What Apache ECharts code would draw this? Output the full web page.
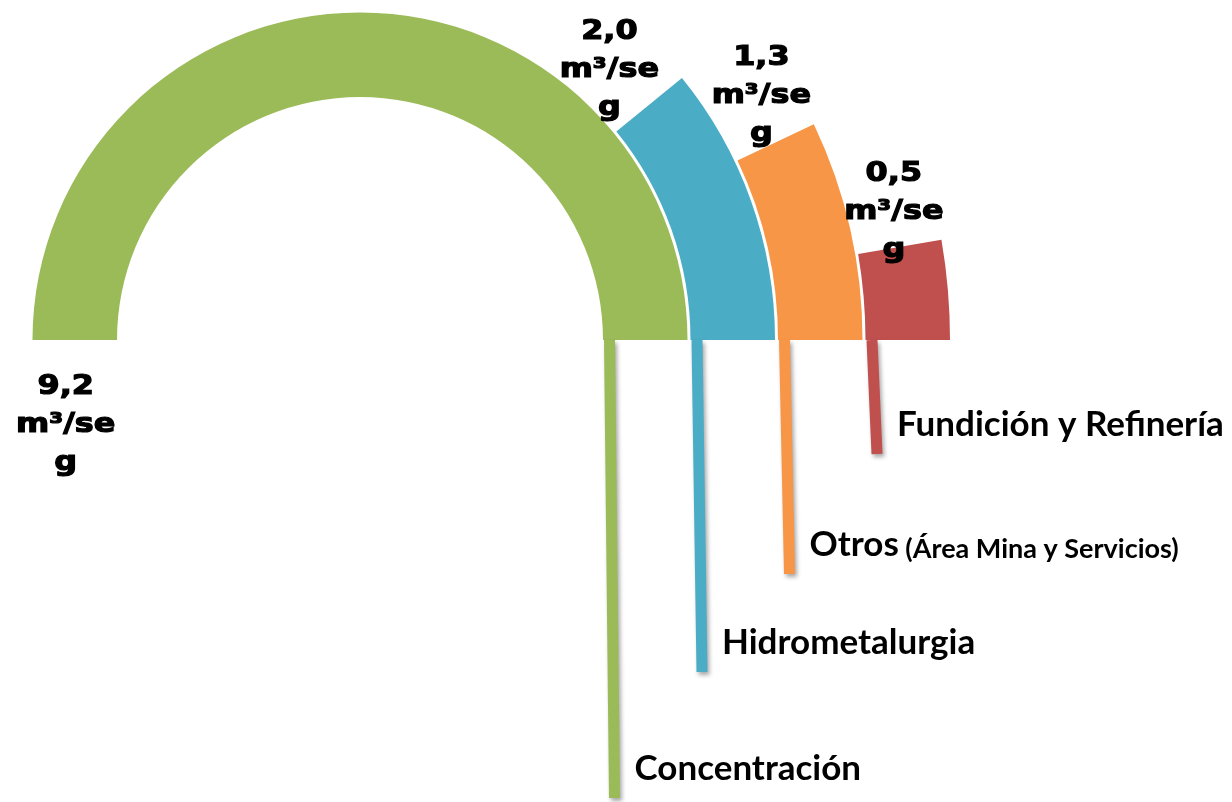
<!DOCTYPE html>
<html>
<head>
<meta charset="utf-8">
<script src="https://cdn.jsdelivr.net/npm/echarts@6/dist/echarts.min.js"></script>
<style>
html, body { margin: 0; padding: 0; background: #fff; }
#chart_agua { width: 1232px; height: 802px; }
</style>
</head>
<body>
<div id="chart_agua"></div>
<script>
// consumo de agua por area
var categories = ['Concentración', 'Hidrometalurgia', 'Otros', 'Fundición y Refinería'];
var categoryNotes = ['', '', '(Área Mina y Servicios)', ''];
var values = [9.2, 2.0, 1.3, 0.5];
var unit = 'm³/seg';

var colors = ['#9BBB59', '#4BACC6', '#F79646', '#C0504D'];
// leader line drop below the baseline, label distance past the arc end and radial shift
var leaderDrop = [458, 332, 234, 114];
var labelGap = [85, 52, 48, 35];
var labelShift = [9, -9, 7, 0];

// the value box in the original wraps every 5 characters
function fmt(v) {
    return v.toFixed(1).replace('.', ',') + '\n' + unit.match(/.{1,5}/g).join('\n');
}

function renderLeader(params, api) {
    var i = api.value(0);
    var cs = params.coordSys;
    var base = api.coord([i, 0]);
    var end = api.coord([i, api.value(1)]);
    var bw = api.size([1, 0])[0];
    var x0 = base[0] - bw / 2 + 8;
    var y0 = base[1];
    var x1 = x0 + 5;
    var y1 = y0 + leaderDrop[i];
    var th = Math.atan2(cs.cy - end[1], end[0] - cs.cx);
    var lx = end[0] - Math.sin(th) * labelGap[i] + Math.cos(th) * labelShift[i];
    var ly = end[1] - Math.cos(th) * labelGap[i] - Math.sin(th) * labelShift[i];
    var txt = '{a|' + categories[i] + '}';
    if (categoryNotes[i]) {
        txt += '{b| ' + categoryNotes[i] + '}';
    }
    return {
        type: 'group',
        children: [{
                type: 'line',
                shape: {x1: x0, y1: y0, x2: x1, y2: y1},
                style: {
                    stroke: colors[i],
                    lineWidth: 11,
                    shadowBlur: 4,
                    shadowOffsetX: 2,
                    shadowOffsetY: 3,
                    shadowColor: 'rgba(0, 0, 0, 0.35)'
                }
            }, {
                type: 'text',
                x: x1 + 20,
                y: y1 - 29,
                style: {
                    text: txt,
                    align: 'left',
                    verticalAlign: 'middle',
                    rich: {
                        a: {fontFamily: 'Lato', fontWeight: 'bold', fontSize: 35, fill: '#000', color: '#000', verticalAlign: 'bottom'},
                        b: {fontFamily: 'Lato', fontWeight: 'bold', fontSize: 27, fill: '#000', color: '#000', verticalAlign: 'bottom'}
                    }
                }
            }, {
                type: 'text',
                x: lx,
                y: ly,
                scaleX: 1.18,
                style: {
                    text: fmt(values[i]),
                    fill: '#000',
                    stroke: '#000',
                    lineWidth: 1.2,
                    fontFamily: 'DejaVu Sans',
                    fontWeight: 'bold',
                    fontSize: 27,
                    lineHeight: 38,
                    align: 'center',
                    verticalAlign: 'middle'
                }
            }]
    };
}

var option = {
    backgroundColor: '#fff',
    animation: false,
    polar: {
        center: [360, 340],
        radius: [241.5, 591.5]
    },
    angleAxis: {
        type: 'value',
        startAngle: 0,
        clockwise: false,
        min: 0,
        max: Math.max.apply(null, values) * 2,
        show: false
    },
    radiusAxis: {
        type: 'category',
        data: categories,
        show: false
    },
    series: [
        {
            type: 'bar',
            coordinateSystem: 'polar',
            barCategoryGap: '3.4%',
            data: values.map(function (v, i) {
                return {value: v, itemStyle: {color: colors[i]}};
            }),
            z: 2
        },
        {
            type: 'custom',
            coordinateSystem: 'polar',
            data: values.map(function (v, i) {
                return [i, v];
            }),
            renderItem: renderLeader,
            z: 3
        }
    ]
};

var chart_agua = echarts.init(document.getElementById('chart_agua'));
chart_agua.setOption(option);
</script>
</body>
</html>
